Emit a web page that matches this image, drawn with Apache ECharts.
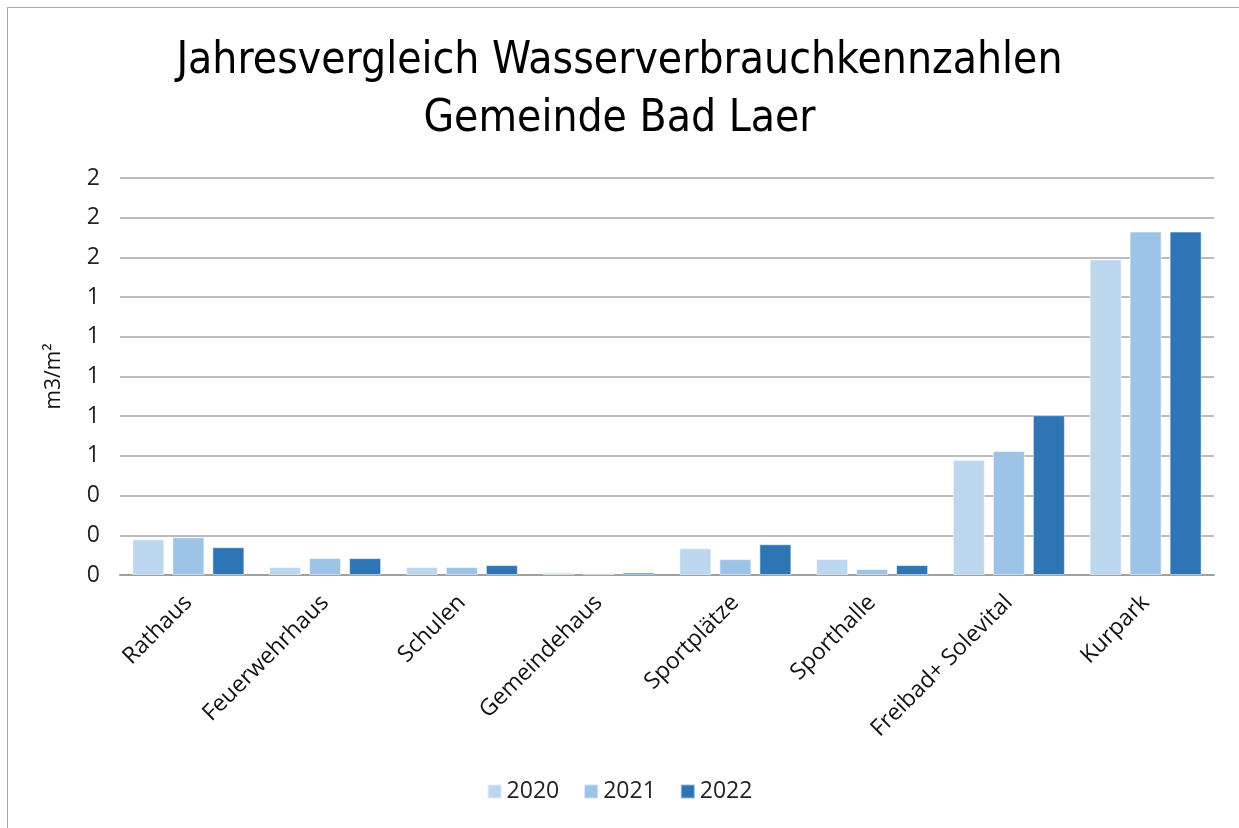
<!DOCTYPE html>
<html>
<head>
<meta charset="utf-8">
<script src="https://cdn.jsdelivr.net/npm/echarts@6/dist/echarts.min.js"></script>
<style>
  html, body { margin: 0; padding: 0; background: #fff; }
  #frame { position: absolute; left: 7px; top: 7px; width: 1240px; height: 830px; border: 1px solid #a8a8a8; box-sizing: border-box; }
  #chart { width: 1239px; height: 828px; position: absolute; left: 0; top: 0; }
</style>
</head>
<body>
<div id="frame"></div>
<div id="chart"></div>
<script>
const categories = ['Rathaus', 'Feuerwehrhaus', 'Schulen', 'Gemeindehaus', 'Sportplätze', 'Sporthalle', 'Freibad+ Solevital', 'Kurpark'];
const years = ['2020', '2021', '2022'];
const values2020 = [0.18, 0.04, 0.04, 0.012, 0.135, 0.08, 0.58, 1.59];
const values2021 = [0.19, 0.085, 0.04, 0.009, 0.08, 0.03, 0.625, 1.73];
const values2022 = [0.14, 0.085, 0.05, 0.012, 0.155, 0.05, 0.805, 1.73];
const colors = ['#BDD7EE', '#9DC3E6', '#2E75B6'];

const font = 'Open Sans, Liberation Sans, sans-serif';
const titleFont = 'Liberation Sans Narrow, DejaVu Sans Condensed, Roboto Condensed, sans-serif';
const chart = echarts.init(document.getElementById('chart'));

const seriesData = [values2020, values2021, values2022];

const option = {
  animation: false,
  title: {
    text: 'Jahresvergleich Wasserverbrauchkennzahlen\nGemeinde Bad Laer',
    left: 'center',
    top: 28,
    textStyle: { fontFamily: titleFont, fontWeight: 'normal', fontSize: 44, color: '#000', lineHeight: 58 }
  },
  legend: {
    bottom: 20,
    left: 'center',
    itemWidth: 14,
    itemHeight: 14,
    itemGap: 24,
    icon: 'rect',
    textStyle: { fontFamily: font, fontSize: 23, color: '#222' },
    data: years
  },
  grid: { left: 120, right: 25, top: 178, bottom: 253 },
  xAxis: {
    type: 'category',
    data: categories,
    axisLine: { lineStyle: { color: '#a0a0a0', width: 2 } },
    axisTick: { show: false },
    axisLabel: { rotate: 45, fontFamily: font, fontSize: 23, color: '#111', margin: 24 }
  },
  yAxis: {
    type: 'value',
    min: 0,
    max: 2,
    interval: 0.2,
    name: 'm3/m²',
    nameLocation: 'middle',
    nameGap: 55,
    nameTextStyle: { fontFamily: font, fontSize: 21, color: '#111' },
    axisLine: { show: false },
    axisTick: { show: false },
    axisLabel: {
      fontFamily: font, fontSize: 23, color: '#222', margin: 20,
      formatter: v => String(Math.round(v))
    },
    splitLine: { lineStyle: { color: '#a6a6a6', width: 1.5 } }
  },
  series: years.map((y, i) => ({
    name: y,
    type: 'bar',
    data: seriesData[i],
    barWidth: 32,
    barGap: '25%',
    itemStyle: { color: colors[i], borderColor: 'rgba(255,255,255,0.5)', borderWidth: 1 }
  }))
};

chart.setOption(option);
</script>
</body>
</html>
